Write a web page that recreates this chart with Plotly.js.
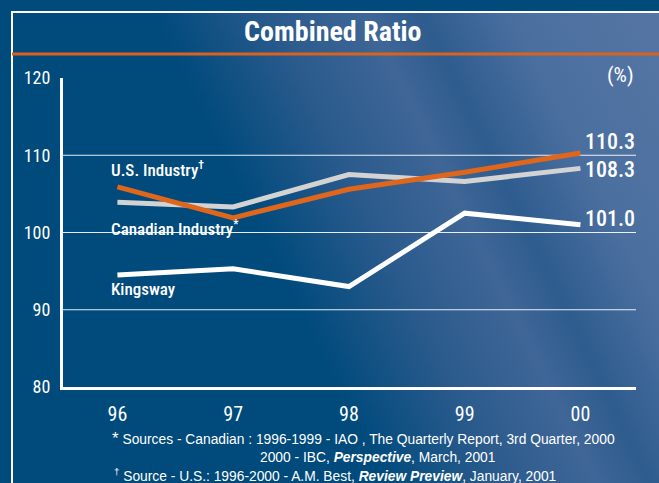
<!DOCTYPE html>
<html>
<head>
<meta charset="utf-8">
<script src="https://cdn.plot.ly/plotly-3.0.1.min.js"></script>
<style>
  html, body { margin: 0; padding: 0; }
  #wrap { position: relative; width: 659px; height: 483px; background: #004a7c; overflow: hidden; }
  #panel { position: absolute; left: 11px; top: 11px; width: 660px; height: 490px;
           border-left: 2px solid #ffffff; border-top: 2px solid #ffffff;
           background: linear-gradient(64deg, #004a7c 0%, #004a7c 42%, #2a5a8c 55%, #3f6697 66%, #2e5c8e 72%, #4a6f9f 82%, #5676a5 100%); }
  #chart { position: absolute; left: 0; top: 0; width: 659px; height: 483px; }
</style>
</head>
<body>
<div id="wrap">
  <div id="panel"></div>
  <div id="chart"></div>
</div>
<script>
const years = ["96", "97", "98", "99", "00"];
const usIndustry = [105.9, 101.9, 105.6, 107.8, 110.3];
const canadianIndustry = [103.9, 103.3, 107.5, 106.6, 108.3];
const kingsway = [94.5, 95.3, 93.0, 102.5, 101.0];
const yTicks = [80, 90, 100, 110, 120];
const gridValues = [90, 100, 110];
const endLabels = ["110.3", "108.3", "101.0"];

const narrow = '"Roboto Condensed", "Liberation Sans Narrow", Roboto, sans-serif';
const regular = '"Liberation Sans", Arial, sans-serif';

const traces = [
  { x: years, y: canadianIndustry, name: "Canadian Industry", type: "scatter", mode: "lines",
    line: { color: "#d3d3d3", width: 5 } },
  { x: years, y: usIndustry, name: "U.S. Industry", type: "scatter", mode: "lines",
    line: { color: "#e0661c", width: 5 } },
  { x: years, y: kingsway, name: "Kingsway", type: "scatter", mode: "lines",
    line: { color: "#ffffff", width: 5 } }
];

const shapes = gridValues.map(v => ({
  type: "line", xref: "paper", yref: "y", x0: 0, x1: 1, y0: v, y1: v,
  line: { color: "rgba(255,255,255,0.9)", width: 1 }, layer: "below"
}));
shapes.push({ type: "line", xref: "paper", yref: "paper", x0: -0.089, x1: 1.05, y0: 1.078, y1: 1.078,
  line: { color: "#d9621f", width: 3 } });

const firstIdx = 0, lastIdx = years.length - 1;
const annotations = [
  { text: "U.S. Industry<sup>†</sup>", x: firstIdx, y: 108.2 },
  { text: "Canadian Industry<sup>*</sup>", x: firstIdx, y: 100.6 },
  { text: "Kingsway", x: firstIdx, y: 92.7 }
].map(a => Object.assign(a, { xanchor: "left", yanchor: "middle", xshift: -8, showarrow: false,
  font: { family: narrow, size: 17, weight: 500, color: "#ffffff" } }));

const endY = [usIndustry[lastIdx], canadianIndustry[lastIdx], kingsway[lastIdx]];
const endShift = [11, -1, 6];
endLabels.forEach((t, i) => {
  annotations.push({ text: t, x: lastIdx, y: endY[i], xanchor: "left", yanchor: "middle",
    xshift: 3, yshift: endShift[i], showarrow: false,
    font: { family: narrow, size: 22, weight: 500, color: "#ffffff" } });
});

annotations.push({ text: "(%)", xref: "paper", yref: "paper", x: 1, y: 1.01, xanchor: "right", yanchor: "middle",
  showarrow: false, font: { family: narrow, size: 21, color: "#ffffff" } });

const foot = { family: regular, size: 13.8, color: "#ffffff" };
annotations.push({ text: "<span style='font-size:17px'>*</span> Sources - Canadian : 1996-1999 - IAO , The Quarterly Report, 3rd Quarter, 2000",
  xref: "paper", yref: "paper", x: 0.082, y: -0.168, xanchor: "left", yanchor: "middle", showarrow: false, font: foot });
annotations.push({ text: "2000 - IBC, <b><i>Perspective</i></b>, March, 2001",
  xref: "paper", yref: "paper", x: 0.34, y: -0.229, xanchor: "left", yanchor: "middle", showarrow: false, font: foot });
annotations.push({ text: "<sup>†</sup> Source - U.S.: 1996-2000 - A.M. Best, <b><i>Review Preview</i></b>, January, 2001",
  xref: "paper", yref: "paper", x: 0.085, y: -0.284, xanchor: "left", yanchor: "middle", showarrow: false, font: foot });

const layout = {
  width: 659, height: 483,
  margin: { l: 63, r: 23, t: 78, b: 96, pad: 0 },
  paper_bgcolor: "rgba(0,0,0,0)", plot_bgcolor: "rgba(0,0,0,0)",
  showlegend: false,
  title: { text: "<b>Combined Ratio</b>", xref: "container", yref: "container", x: 0.505, y: 0.936,
    xanchor: "center", yanchor: "middle", font: { family: narrow, size: 28, color: "#ffffff" } },
  xaxis: { type: "category", range: [-0.47, 4.48], showgrid: false, zeroline: false,
    showline: true, linecolor: "#ffffff", linewidth: 3, ticks: "", ticklabelstandoff: 7,
    tickfont: { family: narrow, size: 20, color: "#ffffff" }, fixedrange: true },
  yaxis: { range: [80, 120], tickvals: yTicks, showgrid: false, zeroline: false,
    showline: true, linecolor: "#ffffff", linewidth: 3, ticks: "", ticklabelstandoff: 6,
    tickfont: { family: narrow, size: 18, color: "#ffffff" }, fixedrange: true },
  shapes: shapes,
  annotations: annotations
};

Plotly.newPlot("chart", traces, layout, { displayModeBar: false, staticPlot: true });
</script>
</body>
</html>
